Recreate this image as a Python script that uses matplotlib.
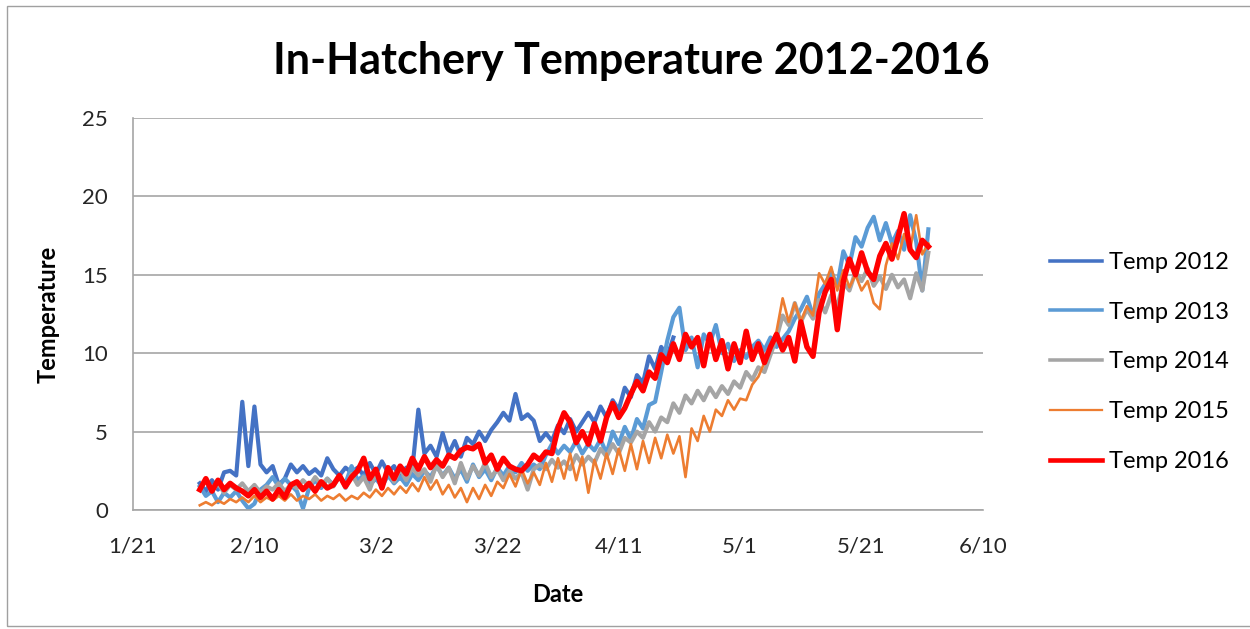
import numpy as np
import pandas as pd
import matplotlib
matplotlib.use("Agg")
import matplotlib.pyplot as plt
from matplotlib.patches import Rectangle

plt.rcParams['font.family'] = ['Lato', 'DejaVu Sans']

# daily readings starting Feb 1 (month/day only, years overlaid)
start_date = '2015-02-01'

temp_2012 = [1.7, 1.2, 1.9, 1.3, 2.4, 2.5, 2.2, 6.9, 2.8, 6.6,
             2.9, 2.4, 2.8, 1.6, 2.0, 2.9, 2.4, 2.8, 2.3, 2.6,
             2.2, 3.3, 2.6, 2.2, 2.7, 2.4, 2.7, 2.2, 3.0, 2.3,
             3.1, 2.4, 2.8, 2.0, 2.7, 2.6, 6.4, 3.6, 4.1, 3.4,
             4.9, 3.6, 4.4, 3.4, 4.6, 4.2, 5.0, 4.4, 5.1, 5.6,
             6.2, 5.7, 7.4, 5.8, 6.1, 5.7, 4.4, 4.9, 4.4, 5.4,
             4.9, 5.8, 5.0, 5.6, 6.2, 5.6, 6.6, 5.9, 7.0, 6.4,
             7.8, 7.2, 8.6, 8.1, 9.8, 9.0, 10.4, 9.8, 11.0]

temp_2013 = [1.5, 0.9, 1.2, 0.5, 1.1, 0.8, 1.2, 0.6, 0.1, 0.4,
             1.3, 1.6, 2.1, 1.5, 2.0, 1.6, 1.2, 0.1, 1.4, 1.9,
             1.4, 2.0, 1.6, 2.1, 1.7, 2.8, 1.9, 2.2, 1.6, 2.0,
             1.5, 2.2, 1.7, 2.1, 1.6, 2.3, 1.9, 2.5, 2.1, 2.8,
             2.2, 2.7, 2.0, 2.6, 1.8, 2.9, 2.1, 2.6, 1.9, 2.7,
             2.2, 2.8, 2.4, 3.0, 2.5, 2.9, 2.6, 3.5, 4.2, 3.6,
             4.1, 3.7, 4.4, 3.6, 4.2, 3.8, 4.5, 3.6, 5.0, 4.2,
             5.3, 4.5, 5.8, 5.2, 6.7, 6.9, 8.8, 10.8, 12.3, 12.9,
             10.2, 11.0, 9.1, 11.2, 10.6, 11.8, 10.0, 10.6, 9.5, 10.2,
             9.7, 10.4, 10.8, 10.2, 11.0, 10.4, 10.9, 11.4, 12.2, 12.8,
             13.6, 12.4, 13.8, 14.4, 15.2, 14.3, 16.5, 15.6, 17.4, 16.8,
             18.0, 18.7, 17.2, 18.3, 17.0, 17.8, 16.6, 18.8, 17.1, 14.0,
             17.9]

temp_2014 = [1.3, 1.9, 1.2, 1.7, 1.1, 1.6, 1.3, 1.7, 1.2, 1.6,
             1.1, 1.5, 1.3, 1.7, 1.2, 1.6, 1.4, 1.9, 1.5, 2.1,
             1.6, 2.0, 1.5, 2.2, 1.4, 2.3, 1.6, 2.1, 1.3, 2.4,
             1.7, 2.5, 1.8, 2.6, 1.9, 2.7, 2.2, 2.6, 1.8, 2.9,
             2.1, 2.7, 1.7, 3.0, 2.0, 2.8, 2.2, 3.0, 2.1, 2.6,
             1.9, 2.5, 2.0, 2.4, 1.3, 2.6, 2.9, 2.6, 3.2, 2.7,
             3.1, 2.6, 3.5, 2.9, 3.4, 3.0, 3.9, 3.4, 4.2, 3.6,
             4.6, 4.3, 5.0, 4.6, 5.6, 5.0, 5.9, 5.6, 6.8, 6.2,
             7.3, 6.8, 7.6, 7.0, 7.8, 7.2, 7.9, 7.4, 8.2, 7.8,
             8.8, 8.3, 9.1, 8.8, 9.9, 11.0, 12.4, 11.8, 13.2, 12.0,
             12.8, 12.2, 13.4, 12.6, 13.7, 13.0, 14.5, 14.0, 15.2, 14.6,
             15.4, 14.3, 14.9, 14.1, 15.0, 14.2, 14.7, 13.5, 15.1, 14.0,
             16.4]

temp_2015 = [0.3, 0.5, 0.3, 0.6, 0.4, 0.7, 0.5, 0.8, 0.5, 0.9,
             0.5, 0.8, 0.6, 0.9, 0.6, 1.0, 0.6, 0.9, 0.7, 1.0,
             0.6, 0.9, 0.7, 1.0, 0.6, 0.9, 0.7, 1.1, 0.8, 1.3,
             0.9, 1.4, 1.0, 1.5, 1.1, 1.7, 1.2, 2.1, 1.3, 1.9,
             1.0, 1.6, 0.8, 1.4, 0.5, 1.4, 0.7, 1.6, 0.9, 1.8,
             1.4, 2.3, 1.5, 2.6, 1.7, 2.4, 1.6, 3.0, 1.8, 3.3,
             2.0, 3.6, 1.9, 3.4, 1.1, 3.2, 2.0, 3.6, 2.3, 3.9,
             2.5, 4.2, 2.6, 4.4, 3.0, 4.6, 3.3, 4.8, 3.6, 4.7,
             2.1, 5.2, 4.4, 6.0, 5.0, 6.4, 6.0, 7.0, 6.4, 7.1,
             7.0, 8.0, 8.5, 9.4, 10.4, 11.4, 13.5, 12.0, 13.2, 12.0,
             13.0, 12.4, 15.1, 14.4, 15.5, 14.0, 15.3, 14.2, 15.0, 14.0,
             14.6, 13.2, 12.8, 15.6, 17.0, 16.0, 17.6, 16.6, 18.8, 16.3,
             17.0]

temp_2016 = [1.3, 2.0, 1.2, 1.9, 1.3, 1.7, 1.4, 1.2, 0.9, 1.3,
             0.8, 1.2, 0.7, 1.3, 0.8, 1.6, 1.8, 1.3, 1.7, 1.2,
             1.8, 1.4, 1.6, 2.2, 1.5, 2.1, 2.5, 3.3, 2.0, 2.6,
             1.4, 2.7, 2.0, 2.8, 2.3, 3.3, 2.6, 3.4, 2.7, 3.2,
             2.8, 3.5, 3.3, 3.8, 4.0, 3.9, 4.2, 3.0, 3.5, 2.6,
             3.3, 2.8, 2.6, 2.5, 2.9, 3.5, 3.2, 3.7, 3.6, 5.2,
             6.2, 5.6, 4.3, 5.0, 4.2, 5.5, 4.4, 5.9, 6.8, 5.9,
             6.5, 7.4, 8.2, 7.6, 8.8, 8.4, 9.9, 9.4, 10.6, 9.6,
             11.2, 10.4, 11.0, 9.2, 11.2, 9.6, 10.8, 9.0, 10.6, 9.4,
             11.4, 9.6, 10.6, 9.4, 10.4, 11.2, 10.2, 11.0, 9.5, 12.0,
             10.4, 9.8, 12.6, 13.9, 14.7, 11.5, 14.6, 16.0, 15.0, 16.4,
             15.2, 14.7, 16.2, 17.0, 16.0, 17.4, 18.9, 16.6, 16.1, 17.2,
             16.8]

series = [
    ('Temp 2012', temp_2012, '#4472C4', 3.0),
    ('Temp 2013', temp_2013, '#5B9BD5', 3.0),
    ('Temp 2014', temp_2014, '#A5A5A5', 3.0),
    ('Temp 2015', temp_2015, '#ED7D31', 1.9),
    ('Temp 2016', temp_2016, '#FF0000', 3.9),
]

tick_dates = pd.date_range('2015-01-21', '2015-06-10', freq='20D')
tick_labels = ['1/21', '2/10', '3/2', '3/22', '4/11', '5/1', '5/21', '6/10']

fig = plt.figure(figsize=(12.5, 6.29), dpi=100)
ax = fig.add_axes([0.1064, 0.1892, 0.68, 0.6232])

for name, vals, color, lw in series:
    dates = pd.date_range(start_date, periods=len(vals), freq='D')
    ax.plot(dates, vals, color=color, lw=lw, label=name, solid_joinstyle='round')

ax.set_xlim(pd.Timestamp('2015-01-21'), pd.Timestamp('2015-06-10'))
ax.set_ylim(0, 25)
ax.set_yticks([0, 5, 10, 15, 20, 25])
ax.set_xticks(tick_dates)
ax.set_xticklabels(tick_labels)
ax.grid(axis='y', color='#a6a6a6', lw=1.2)
ax.set_axisbelow(True)
for s in ['top', 'right']:
    ax.spines[s].set_visible(False)
for s in ['left', 'bottom']:
    ax.spines[s].set_color('#a6a6a6')
    ax.spines[s].set_linewidth(1.2)
ax.tick_params(length=0, labelsize=16, colors='#262626')
ax.tick_params(axis='y', pad=18)
ax.tick_params(axis='x', pad=19)

ax.set_ylabel('Temperature', fontsize=17, fontweight='bold')
ax.yaxis.set_label_coords(-0.086, 0.5)
ax.set_xlabel('Date', fontsize=17, fontweight='bold')
ax.xaxis.set_label_coords(0.5, -0.185)

fig.text(0.505, 0.903, 'In-Hatchery Temperature 2012-2016', ha='center', va='center',
         fontsize=31, fontweight='bold')

leg = ax.legend(loc='center left', bbox_to_anchor=(0.84, 0.4245), bbox_transform=fig.transFigure,
                frameon=False, fontsize=17, handlelength=2.2, handletextpad=0.3,
                labelspacing=1.22, borderpad=0, borderaxespad=0)
for h, (_, _, _, lw) in zip(leg.get_lines(), series):
    h.set_linewidth(lw * 0.85)

fig.patches.append(Rectangle((7 / 1250, 1 - 626 / 629), 1.1, (626 - 6) / 629,
                             transform=fig.transFigure, fill=False,
                             edgecolor='#a0a0a0', lw=1))

fig.savefig('out.png', dpi=100)
